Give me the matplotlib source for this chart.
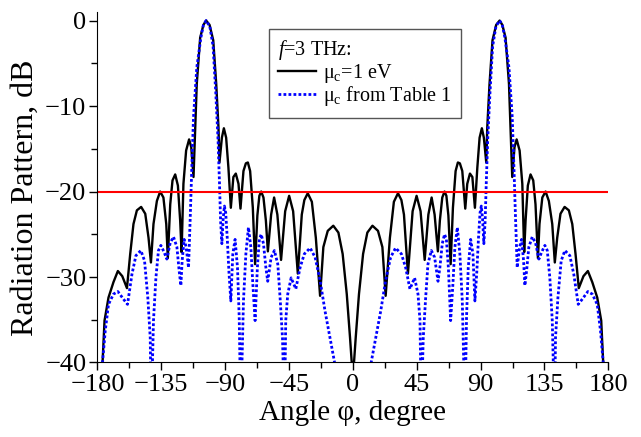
import matplotlib
matplotlib.use("Agg")
import matplotlib.pyplot as plt

plt.rcParams['font.family'] = ['Liberation Serif', 'DejaVu Serif']
plt.rcParams['mathtext.fontset'] = 'custom'
plt.rcParams['mathtext.rm'] = 'Liberation Serif'
plt.rcParams['mathtext.it'] = 'Liberation Serif:italic'

# mu_c = 1 eV (black solid)
black_ang = [
    -179.0, -176.4, -175.0, -172.2, -168.7, -165.6, -162.5, -159.2,
    -156.9, -154.6, -152.2, -149.2, -146.3, -144.0, -142.3,
    -140.5, -138.1, -135.8, -133.5, -131.5, -130.4,
    -128.7, -127.1, -125.2, -123.3, -121.7, -120.7,
    -119.4, -117.5, -115.4, -113.9, -112.3,
    -110.0, -107.6, -105.3, -103.4, -101.0, -98.4, -96.3, -94.7, -94.0,
    -92.3, -90.9, -89.3, -87.7, -86.0,
    -84.2, -82.5, -80.6, -79.2,
    -77.1, -75.4, -74.0, -72.4, -70.5, -68.9,
    -67.3, -65.9, -64.6, -63.0, -61.3, -59.9,
    -57.6, -55.5, -53.2, -50.6,
    -47.7, -44.9, -42.1, -38.8,
    -36.0, -34.2, -31.8, -28.9, -26.1, -23.1,
    -20.8, -17.7, -13.8, -10.2, -7.2, -4.3, -2.0, -0.8, 0.0,
    0.8, 2.0, 4.3, 7.2, 10.2, 13.8, 17.7, 20.8,
    23.1, 26.1, 28.9, 31.8, 34.2, 36.0,
    38.8, 42.1, 44.9, 47.7,
    50.6, 53.2, 55.5, 57.6,
    59.9, 61.3, 63.0, 64.6, 65.9, 67.3,
    68.9, 70.5, 72.4, 74.0, 75.4, 77.1,
    79.2, 80.6, 82.5, 84.2,
    86.0, 87.7, 89.3, 90.9, 92.3,
    94.0, 94.7, 96.3, 98.4, 101.0, 103.4, 105.3, 107.6, 110.0,
    112.3, 113.9, 115.4, 117.5, 119.4,
    120.7, 121.7, 123.3, 125.2, 127.1, 128.7,
    130.4, 131.5, 133.5, 135.8, 138.1, 140.5,
    142.3, 144.0, 146.3, 149.2, 152.2, 154.6, 156.9,
    159.2, 162.5, 165.6, 168.7, 172.2, 175.0, 176.4, 179.0,
]
black_db = [
    -52.0, -40.0, -35.1, -32.4, -30.6, -29.3, -29.9, -31.3,
    -27.3, -23.8, -22.2, -21.8, -22.6, -25.4, -28.3,
    -23.8, -21.1, -20.0, -20.7, -23.8, -27.8,
    -21.5, -18.7, -18.0, -19.3, -23.4, -27.1,
    -19.1, -15.2, -13.9, -14.8, -18.3,
    -7.4, -2.0, -0.5, 0.0, -0.5, -2.3, -7.4, -12.5, -16.6,
    -13.7, -12.6, -13.7, -17.2, -21.9,
    -18.3, -17.9, -19.1, -22.0,
    -17.6, -16.7, -16.6, -17.6, -21.9, -28.5,
    -22.8, -20.5, -20.0, -20.7, -23.4, -27.0,
    -22.7, -20.7, -22.7, -28.0,
    -22.3, -20.5, -22.3, -29.6,
    -22.7, -21.0, -20.2, -21.2, -25.4, -32.2,
    -26.5, -24.6, -24.0, -24.8, -27.3, -32.0, -37.1, -40.0, -60.0,
    -40.0, -37.1, -32.0, -27.3, -24.8, -24.0, -24.6, -26.5,
    -32.2, -25.4, -21.2, -20.2, -21.0, -22.7,
    -29.6, -22.3, -20.5, -22.3,
    -28.0, -22.7, -20.7, -22.7,
    -27.0, -23.4, -20.7, -20.0, -20.5, -22.8,
    -28.5, -21.9, -17.6, -16.6, -16.7, -17.6,
    -22.0, -19.1, -17.9, -18.3,
    -21.9, -17.2, -13.7, -12.6, -13.7,
    -16.6, -12.5, -7.4, -2.3, -0.5, 0.0, -0.5, -2.0, -7.4,
    -18.3, -14.8, -13.9, -15.2, -19.1,
    -27.1, -23.4, -19.3, -18.0, -18.7, -21.5,
    -27.8, -23.8, -20.7, -20.0, -21.1, -23.8,
    -28.3, -25.4, -22.6, -21.8, -22.2, -23.8, -27.3,
    -31.3, -29.9, -29.3, -30.6, -32.4, -35.1, -40.0, -52.0,
]

# mu_c from Table 1 (blue dotted)
blue_ang = [
    -179.0, -176.4, -174.5, -172.2, -168.7, -165.6, -161.6, -158.8,
    -155.7, -152.9, -149.4, -146.8, -144.5, -142.8, -142.1,
    -140.5, -138.8, -137.0, -135.3, -133.0, -131.1,
    -128.7, -126.4, -124.0, -122.4, -121.2,
    -120.3, -118.9, -117.5, -115.8,
    -114.6, -113.5, -112.3, -110.0, -107.1, -105.3, -103.4, -100.8, -98.5, -96.6, -95.0, -94.0, -93.2, -92.3,
    -91.4, -90.5, -89.6, -88.5, -87.3, -86.0,
    -84.6, -83.0, -81.3, -80.1, -79.0,
    -77.1, -75.4, -73.6, -71.9, -70.5, -68.9,
    -67.3, -65.9, -64.6, -63.0, -61.3, -60.0,
    -57.6, -55.3, -52.9, -51.3, -49.6, -48.2,
    -47.3, -45.9, -43.5, -40.2, -37.2, -34.2, -30.1, -26.6, -23.1, -19.6, -16.1, -13.0, -11.5, 0.0,
    11.5, 13.0, 16.1, 19.6, 23.1, 26.6, 30.1, 34.2, 37.2, 40.2, 43.5, 45.9, 47.3,
    48.2, 49.6, 51.3, 52.9, 55.3, 57.6,
    60.0, 61.3, 63.0, 64.6, 65.9, 67.3,
    68.9, 70.5, 71.9, 73.6, 75.4, 77.1,
    79.0, 80.1, 81.3, 83.0, 84.6,
    86.0, 87.3, 88.5, 89.6, 90.5, 91.4,
    92.3, 93.2, 94.0, 95.0, 96.6, 98.5, 100.8, 103.4, 105.3, 107.1, 110.0, 112.3, 113.5, 114.6,
    115.8, 117.5, 118.9, 120.3,
    121.2, 122.4, 124.0, 126.4, 128.7,
    131.1, 133.0, 135.3, 137.0, 138.8, 140.5,
    142.1, 142.8, 144.5, 146.8, 149.4, 152.9, 155.7,
    158.8, 161.6, 165.6, 168.7, 172.2, 174.5, 176.4, 179.0,
]
blue_db = [
    -52.0, -40.0, -36.3, -33.2, -32.0, -31.7, -32.6, -33.2,
    -29.7, -27.5, -26.9, -28.1, -32.4, -37.1, -46.0,
    -35.1, -30.1, -26.9, -26.3, -27.1, -27.9,
    -26.0, -25.3, -26.5, -29.3, -31.0,
    -28.1, -25.6, -26.5, -28.9,
    -23.0, -17.2, -11.3, -5.5, -2.0, -0.5, 0.0, -0.7, -3.0, -8.5, -14.0, -19.0, -23.5, -26.1,
    -23.2, -21.7, -22.5, -25.5, -29.5, -32.8,
    -27.3, -25.6, -28.9, -34.7, -46.0,
    -32.8, -27.3, -24.2, -26.5, -30.8, -35.1,
    -28.9, -25.6, -25.0, -26.1, -28.9, -30.5,
    -27.7, -26.9, -28.5, -32.4, -37.1, -46.0,
    -35.1, -32.0, -30.1, -31.4, -28.9, -27.3, -26.6, -27.7, -30.4, -34.0, -37.1, -39.9, -46.0, -60.0,
    -46.0, -39.9, -37.1, -34.0, -30.4, -27.7, -26.6, -27.3, -28.9, -31.4, -30.1, -32.0, -35.1,
    -46.0, -37.1, -32.4, -28.5, -26.9, -27.7,
    -30.5, -28.9, -26.1, -25.0, -25.6, -28.9,
    -35.1, -30.8, -26.5, -24.2, -27.3, -32.8,
    -46.0, -34.7, -28.9, -25.6, -27.3,
    -32.8, -29.5, -25.5, -22.5, -21.7, -23.2,
    -26.1, -23.5, -19.0, -14.0, -8.5, -3.0, -0.7, 0.0, -0.5, -2.0, -5.5, -11.3, -17.2, -23.0,
    -28.9, -26.5, -25.6, -28.1,
    -31.0, -29.3, -26.5, -25.3, -26.0,
    -27.9, -27.1, -26.3, -26.9, -30.1, -35.1,
    -46.0, -37.1, -32.4, -28.1, -26.9, -27.5, -29.7,
    -33.2, -32.6, -31.7, -32.0, -33.2, -36.3, -40.0, -52.0,
]

threshold = -20

fig = plt.figure(figsize=(6.41, 4.37), dpi=100)
ax = fig.add_axes([0.152, 0.1705, 0.797, 0.802])

ax.plot(black_ang, black_db, color="black", linewidth=1.7, label=r"μ$_\mathrm{c}$=1 eV")
ax.plot(blue_ang, blue_db, color="#0000ff", linewidth=2.0, linestyle=(0, (1, 0.8)),
        label=r"μ$_\mathrm{c}$ from Table 1")
ax.axhline(threshold, color="red", linewidth=1.5)

ax.set_xlim(-180, 180)
ax.set_ylim(-40, 1)
ax.set_xticks([-180, -135, -90, -45, 0, 45, 90, 135, 180])
ax.set_xticks([-157.5, -112.5, -67.5, -22.5, 22.5, 67.5, 112.5, 157.5], minor=True)
ax.set_yticks([0, -10, -20, -30, -40])
ax.set_yticks([-5, -15, -25, -35], minor=True)
ax.spines["top"].set_visible(False)
ax.spines["right"].set_visible(False)
ax.tick_params(which="major", direction="out", length=6, width=1, labelsize=19, pad=2)
ax.tick_params(which="minor", direction="out", length=4, width=1)

ax.set_xlabel("Angle φ, degree", fontsize=21, labelpad=3)
ax.set_ylabel("Radiation Pattern, dB", fontsize=23)
ax.yaxis.set_label_coords(-0.112, 0.47)

leg = ax.legend(title=r"$f$=3 THz:", loc="upper left", bbox_to_anchor=(0.336, 0.951),
                borderaxespad=0, fontsize=14.5, title_fontsize=14.5, alignment="left",
                fancybox=False, edgecolor="#555555", framealpha=1, handlelength=1.9,
                borderpad=0.45, labelspacing=-0.02, handletextpad=0.35)
leg.get_frame().set_linewidth(1.0)

fig.savefig("out.png", dpi=100)
